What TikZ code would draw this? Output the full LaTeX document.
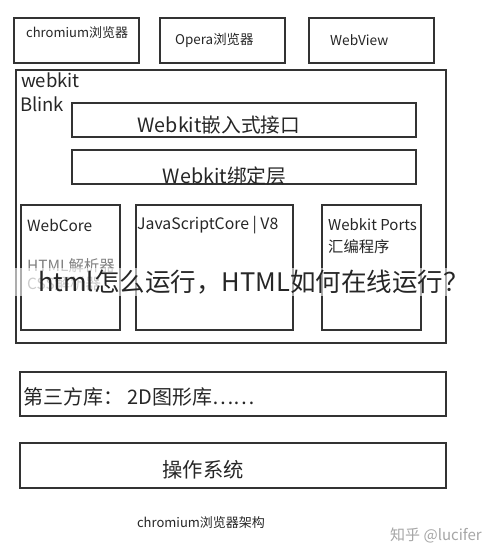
\documentclass[tikz,border=0pt]{standalone}
\usepackage{fontspec}
\setmainfont{Noto Sans CJK SC}
\begin{document}
\begin{tikzpicture}[x=1pt,y=-1pt,
  box/.style={draw=black!80,line width=1.3pt},
  lbl/.style={inner sep=0pt,text=black!85}]
\useasboundingbox (0,0) rectangle (490,551);
\fill[white] (0,0) rectangle (490,551);
% top boxes
\draw[box] (14,18) rectangle (139,63);
\node[lbl,font=\fontsize{13}{15}\selectfont,anchor=west] (chr) at (26,33) {chromium浏览器};
\draw[box] (160,18) rectangle (285,63);
\node[lbl,font=\fontsize{13.4}{15}\selectfont,anchor=west] (opr) at (175,40) {Opera浏览器};
\draw[box] (309,18) rectangle (434,63);
\node[lbl,font=\fontsize{13.7}{15}\selectfont,anchor=west] (wv) at (330,40) {WebView};
% webkit outer
\draw[box] (16,70) rectangle (446,343);
\node[lbl,font=\fontsize{18.5}{20}\selectfont,anchor=west] (wk) at (21,80) {webkit};
\node[lbl,font=\fontsize{18.5}{20}\selectfont,anchor=west] (bl) at (20,104) {Blink};
\draw[box] (72,103) rectangle (416,137);
\node[lbl,font=\fontsize{19.7}{22}\selectfont] (emb) at (219,125) {Webkit嵌入式接口};
\draw[box] (72,150) rectangle (416,184);
\node[lbl,font=\fontsize{19.7}{22}\selectfont] (bind) at (224.5,176) {Webkit绑定层};
% inner columns
\draw[box] (21,205) rectangle (120,330);
\node[lbl,font=\fontsize{15.4}{17}\selectfont,anchor=west] (wc) at (27,225) {WebCore};
\node[lbl,font=\fontsize{15.4}{17}\selectfont,anchor=west,text=black!50] (hp) at (27,266) {HTML解析器};
\node[lbl,font=\fontsize{15.4}{17}\selectfont,anchor=west,text=black!50] (cp) at (27,284) {CSS解析器};
\draw[box] (136,205) rectangle (293,330);
\node[lbl,font=\fontsize{15.8}{17}\selectfont,anchor=west] (js) at (137,225) {JavaScriptCore | V8};
\draw[box] (322,205) rectangle (421,330);
\node[lbl,font=\fontsize{15}{17}\selectfont,anchor=west] (wp) at (328,225) {Webkit Ports};
\node[lbl,font=\fontsize{15.3}{17}\selectfont,anchor=west] (asm) at (328,247) {汇编程序};
% bottom boxes
\draw[box] (20,372) rectangle (446,416);
\node[lbl,font=\fontsize{20}{22}\selectfont,anchor=west] (tp) at (23,397) {第三方库： 2D图形库……};
\draw[box] (20,443) rectangle (446,488);
\node[lbl,font=\fontsize{20.3}{22}\selectfont] (os) at (203,470) {操作系统};
\node[lbl,font=\fontsize{13}{15}\selectfont] (cap) at (201,523) {chromium浏览器架构};
\node[lbl,font=\fontsize{15}{17}\selectfont,text=black!35,anchor=west] (zh) at (390,535) {知乎 @lucifer};
% overlay title band
\fill[white,opacity=0.6] (14,268) rectangle (466,296);
\node[lbl,font=\fontsize{25.5}{27}\selectfont,text=black!85,anchor=west] (ov) at (38,282) {html怎么运行，HTML如何在线运行？};
\end{tikzpicture}
\end{document}
